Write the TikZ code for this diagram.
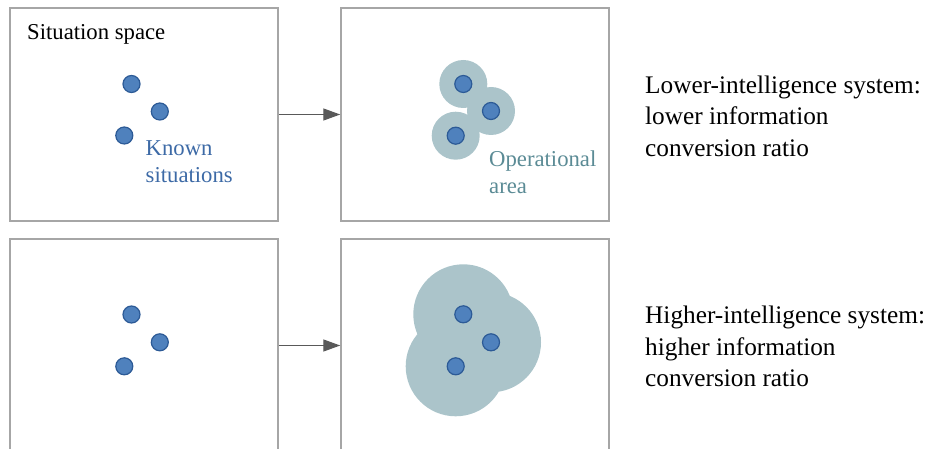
\documentclass[tikz,border=0pt]{standalone}
\usepackage{fontspec}
\setmainfont{Liberation Serif}
\usetikzlibrary{arrows.meta}
\definecolor{boxgray}{HTML}{A6A6A6}
\definecolor{arrowgray}{HTML}{595959}
\definecolor{dotfill}{HTML}{4F81BD}
\definecolor{dotline}{HTML}{2C5A96}
\definecolor{halo}{HTML}{ABC4CA}
\definecolor{knowncol}{HTML}{3D6AA6}
\definecolor{opcol}{HTML}{5B8B95}
\tikzset{
  panel/.style={draw=boxgray, line width=1.5pt, rectangle, inner sep=0pt, minimum width=268pt, minimum height=213pt},
  dot/.style={circle, fill=dotfill, draw=dotline, line width=1.2pt, minimum size=17pt, inner sep=0pt},
  conn/.style={draw=arrowgray, line width=1.4pt, -{Triangle[length=17pt,width=12pt]}},
  lbl/.style={font=\fontsize{22.7pt}{27.5pt}\selectfont, align=left, inner sep=0pt},
  side/.style={font=\fontsize{25.3pt}{31.7pt}\selectfont, align=left, inner sep=0pt, text=black}
}
\begin{document}
\begin{tikzpicture}[x=1pt,y=-1pt]
\useasboundingbox (0,0) rectangle (926,449);
% panels
\node[panel] (p1) at (144,114.5) {};
\node[panel] (p2) at (475,114.5) {};
\node[panel] (p3) at (144,345.5) {};
\node[panel] (p4) at (475,345.5) {};
% connectors
\draw[conn] (p1.east) -- (p2.west);
\draw[conn] (p3.east) -- (p4.west);
% top-left
\node[lbl, anchor=base west] (title) at (27,39.5) {Situation space};
\node[dot] (a1) at (131.5,84) {};
\node[dot] (a2) at (159.8,111.5) {};
\node[dot] (a3) at (124.3,135.5) {};
\node[lbl, anchor=base west, text=knowncol] (known) at (145.5,182.7) {Known\\situations};
% top-middle
\fill[halo] (463.3,84) circle (24) (491,111) circle (24) (455.7,135.7) circle (24);
\node[dot] (b1) at (463.3,84) {};
\node[dot] (b2) at (491,111) {};
\node[dot] (b3) at (455.7,135.7) {};
\node[lbl, anchor=base west, text=opcol, font=\fontsize{22.7pt}{26.7pt}\selectfont] (op) at (489,193.3) {Operational\\area};
% bottom-left
\node[dot] (c1) at (131.5,314.5) {};
\node[dot] (c2) at (159.8,342.3) {};
\node[dot] (c3) at (124.3,366.3) {};
% bottom-middle
\fill[halo] (463.3,314.3) circle (50) (491,342.3) circle (50) (455.7,366.3) circle (50);
\node[dot] (d1) at (463.3,314.3) {};
\node[dot] (d2) at (491,342.3) {};
\node[dot] (d3) at (455.7,366.3) {};
% side texts
\node[side, anchor=base west] (low) at (645,156.7) {Lower-intelligence system:\\lower information\\conversion ratio};
\node[side, anchor=base west] (high) at (645,386.7) {Higher-intelligence system:\\higher information\\conversion ratio};
\end{tikzpicture}
\end{document}
